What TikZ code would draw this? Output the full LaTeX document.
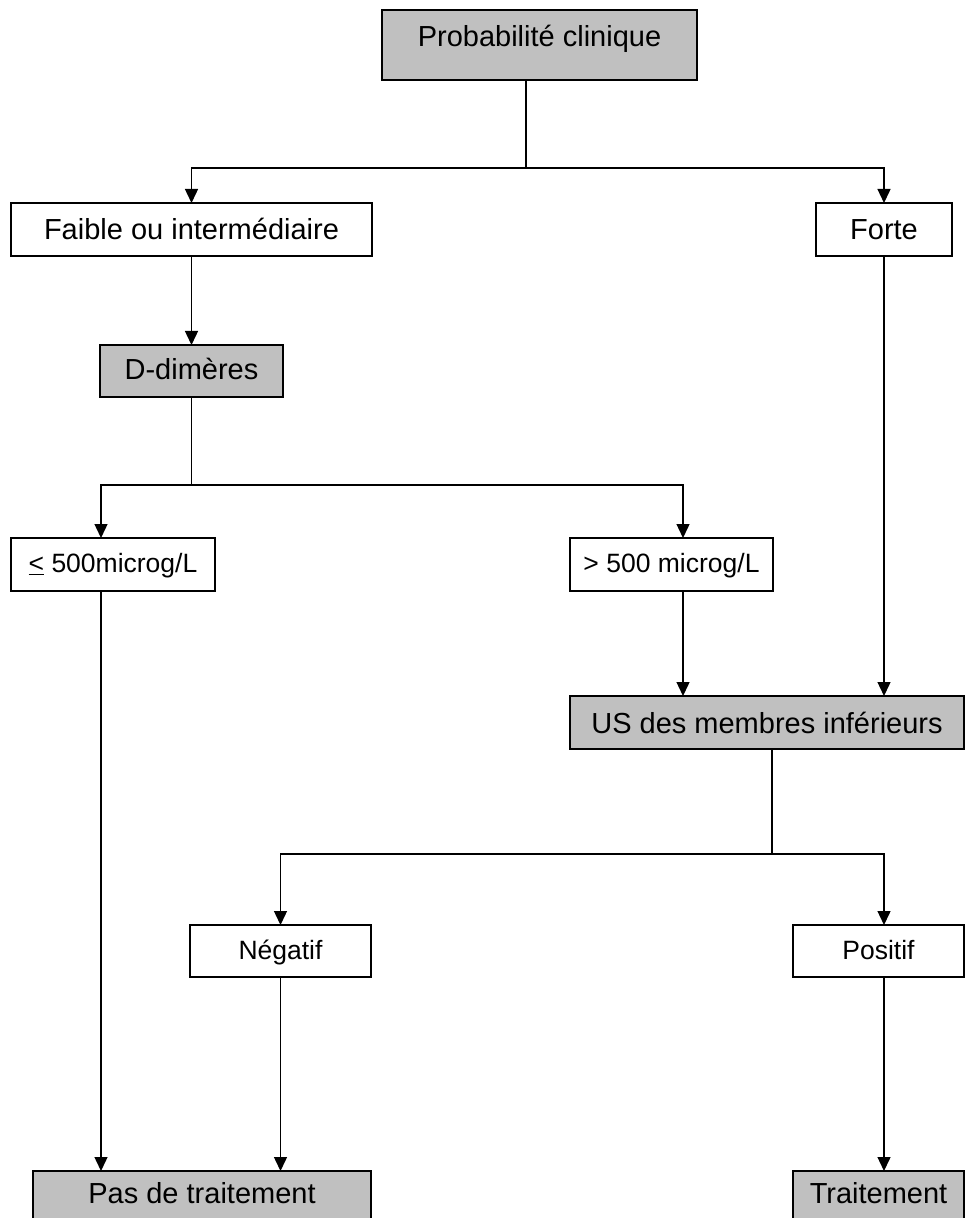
\documentclass[tikz,border=0pt]{standalone}
\usepackage{fontspec}
\setmainfont{Liberation Sans}
\usetikzlibrary{arrows.meta}
\definecolor{boxgray}{HTML}{C0C0C0}
\begin{document}
\begin{tikzpicture}[x=0.5pt,y=-0.5pt,
  box/.style={draw=black, line width=0.8pt, inner sep=0pt, outer sep=0pt, anchor=north west, align=center, font=\fontsize{14.5pt}{17pt}\selectfont},
  small/.style={font=\fontsize{13.25pt}{16pt}\selectfont},
  shaded/.style={fill=boxgray},
  link/.style={line width=0.7pt},
  arr/.style={link, -{Triangle[width=6.5pt,length=7pt]}}]
\useasboundingbox (0,0) rectangle (966,1218);
\clip (0,0) rectangle (966,1218);

\node[box,shaded,minimum width=157.5pt,text height=18.5pt,text depth=16.5pt] (prob) at (382,10) {Probabilité clinique};
\node[box,minimum width=180.5pt,text height=18.5pt,text depth=8pt] (faible) at (11,203) {Faible ou intermédiaire};
\node[box,minimum width=68pt,text height=18.5pt,text depth=8pt] (forte) at (816,203) {Forte};
\node[box,shaded,minimum width=91.5pt,text height=17.5pt,text depth=8.5pt] (ddim) at (100,345) {D-dimères};
\node[box,small,minimum width=102pt,text height=17pt,text depth=9.5pt] (le) at (11,538) {\underline{<} 500microg/L};
\node[box,small,minimum width=101.5pt,text height=17pt,text depth=9.5pt] (gt) at (570,538) {> 500 microg/L};
\node[box,shaded,minimum width=197pt,text height=18.5pt,text depth=8pt] (us) at (570,696) {US des membres inférieurs};
\node[box,small,minimum width=90.5pt,text height=17pt,text depth=9pt] (neg) at (190,925) {Négatif};
\node[box,small,minimum width=85.5pt,text height=17pt,text depth=9pt] (pos) at (793,925) {Positif};
\node[box,shaded,minimum width=169pt,text height=16pt,text depth=10pt] (pas) at (33,1171) {Pas de traitement};
\node[box,shaded,minimum width=85.5pt,text height=16pt,text depth=10pt] (trait) at (793,1171) {Traitement};

\coordinate (cA) at (101,0);
\coordinate (cB) at (683,0);
\coordinate (cC) at (884,0);
\coordinate (j1) at (526,168);
\coordinate (j2) at (191,485);
\coordinate (j3) at (772,854);

\draw[link] (prob.south -| j1) -- (j1);
\draw[arr] (j1) -| (faible.north);
\draw[arr] (j1) -| (forte.north);
\draw[arr] (faible.south) -- (ddim.north);
\draw[link] (ddim.south) -- (ddim.south |- j2);
\draw[arr] (ddim.south |- j2) -| (le.north -| cA);
\draw[arr] (ddim.south |- j2) -| (gt.north -| cB);
\draw[arr] (le.south -| cA) -- (pas.north -| cA);
\draw[arr] (gt.south -| cB) -- (us.north -| cB);
\draw[arr] (forte.south) -- (us.north -| forte.south);
\draw[link] (us.south -| j3) -- (j3);
\draw[arr] (j3) -| (neg.north);
\draw[arr] (j3) -| (pos.north -| cC);
\draw[arr] (neg.south) -- (pas.north -| neg.south);
\draw[arr] (pos.south -| cC) -- (trait.north -| cC);
\end{tikzpicture}
\end{document}
